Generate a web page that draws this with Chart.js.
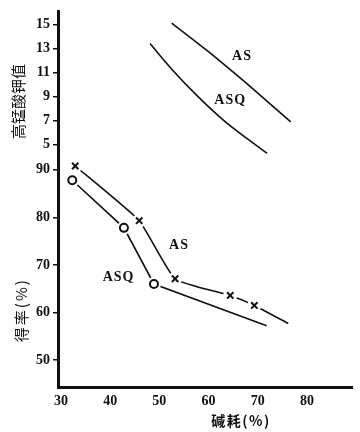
<!DOCTYPE html>
<html>
<head>
<meta charset="utf-8">
<script src="https://cdn.jsdelivr.net/npm/chart.js@4/dist/chart.umd.min.js"></script>
<style>
  html, body { margin: 0; padding: 0; background: #fff; }
  #wrap { width: 360px; height: 432px; }
</style>
</head>
<body>
<div id="wrap"><canvas id="myChart"></canvas></div>
<script>
// tick labels
var xTicks = [30, 40, 50, 60, 70, 80];
var yieldTicks = [50, 60, 70, 80, 90];
var kmnoTicks = [5, 7, 9, 11, 13, 15];

// permanganate number vs alkali consumption (top panel)
var kmnoAsX = [52.5, 59.6, 66.4, 71.8, 76.7];
var kmnoAsY = [15.1, 12.85, 10.55, 8.65, 6.9];
var kmnoAsqX = [48.1, 52.8, 57.6, 63.0, 67.7, 71.9];
var kmnoAsqY = [13.4, 11.15, 9.1, 7.05, 5.55, 4.3];

// yield vs alkali consumption (bottom panel)
var yieldAsX = [32.9, 45.9, 53.2, 64.4, 69.3, 76.2];
var yieldAsY = [90.8, 79.3, 67.1, 63.6, 61.5, 57.7];
var yieldAsqX = [32.3, 42.8, 48.9, 71.8];
var yieldAsqY = [87.8, 77.8, 66.0, 57.2];

// which yield points carry a marker (line ends have none)
var yieldAsMarked = [true, true, true, true, true, false];
var yieldAsqMarked = [true, true, true, false];

function pts(xs, ys) {
    return xs.map(function (v, i) { return { x: v, y: ys[i] }; });
}
function marked(xs, ys, flags) {
    return pts(xs, ys).filter(function (p, i) { return flags[i]; });
}

var ink = "#111";

var lineBase = {
    borderColor: ink,
    borderWidth: 1.6,
    pointRadius: 0,
    fill: false,
    clip: false,
    order: 3,
};

var datasets = [
    Object.assign({ label: "AS", data: pts(kmnoAsX, kmnoAsY), yAxisID: "y2", tension: 0.3 }, lineBase),
    Object.assign({ label: "ASQ", data: pts(kmnoAsqX, kmnoAsqY), yAxisID: "y2", tension: 0.3 }, lineBase),
    Object.assign({ label: "AS yield", data: pts(yieldAsX, yieldAsY), yAxisID: "y", tension: 0.15 }, lineBase),
    Object.assign({ label: "ASQ yield", data: pts(yieldAsqX, yieldAsqY), yAxisID: "y", tension: 0 }, lineBase),
    // white halo so the lines stop short of the markers, as in the print
    {
        label: "halo",
        data: marked(yieldAsX, yieldAsY, yieldAsMarked).concat(marked(yieldAsqX, yieldAsqY, yieldAsqMarked)),
        yAxisID: "y",
        showLine: false,
        clip: false,
        pointRadius: 7,
        pointBackgroundColor: "#fff",
        pointBorderWidth: 0,
        order: 2,
    },
    {
        label: "AS marks",
        data: marked(yieldAsX, yieldAsY, yieldAsMarked),
        yAxisID: "y",
        showLine: false,
        clip: false,
        pointStyle: "crossRot",
        pointRadius: 4.5,
        pointBorderColor: ink,
        pointBorderWidth: 2,
        order: 1,
    },
    {
        label: "ASQ marks",
        data: marked(yieldAsqX, yieldAsqY, yieldAsqMarked),
        yAxisID: "y",
        showLine: false,
        clip: false,
        pointStyle: "circle",
        pointRadius: 4,
        pointBackgroundColor: "#fff",
        pointBorderColor: ink,
        pointBorderWidth: 2,
        order: 1,
    },
];

// curve names and axis titles
var textPlugin = {
    id: "textPlugin",
    afterDatasetsDraw: function (chart) {
        var ctx = chart.ctx;
        var sx = chart.scales.x, sy = chart.scales.y, sy2 = chart.scales.y2;
        ctx.save();
        ctx.fillStyle = ink;
        ctx.textAlign = "center";
        ctx.textBaseline = "middle";

        ctx.font = "bold 14px 'Liberation Serif'";
        ctx.letterSpacing = "1px";
        [
            ["AS", 66.8, 12.3, sy2],
            ["ASQ", 64.4, 8.7, sy2],
            ["AS", 54.0, 74.1, sy],
            ["ASQ", 41.7, 67.4, sy],
        ].forEach(function (t) {
            ctx.fillText(t[0], sx.getPixelForValue(t[1]), t[3].getPixelForValue(t[2]));
        });

        ctx.font = "bold 14px 'Noto Sans CJK SC'";
        ctx.letterSpacing = "1.5px";
        ctx.fillText("碱耗(%)", sx.getPixelForValue(66.6), sx.bottom - 11);

        ctx.font = "15px 'Noto Sans CJK SC'";
        [["高锰酸钾值", sy2.getPixelForValue(8.6), 0, 18], ["得率(%)", sy.getPixelForValue(60.5), 2, 21]].forEach(function (t) {
            ctx.save();
            ctx.letterSpacing = t[2] + "px";
            ctx.translate(sy.left + t[3], t[1]);
            ctx.rotate(-Math.PI / 2);
            ctx.fillText(t[0], 0, 0);
            ctx.restore();
        });
        ctx.restore();
    },
};

var tickFont = { family: "'Liberation Serif'", size: 14, weight: "bold" };

var yAxisBase = {
    type: "linear",
    position: "left",
    stack: "v",
    grid: { drawOnChartArea: false, drawTicks: true, tickLength: 5, color: ink, lineWidth: 1.5 },
    border: { color: ink, width: 3 },
    ticks: { color: ink, font: tickFont, padding: 3, autoSkip: false },
    afterFit: function (s) { s.width = 58; },
};

var ctx1 = document.getElementById("myChart").getContext("2d");

var myChart = new Chart(ctx1, {
    type: "line",
    data: { datasets: datasets },
    options: {
        responsive: true,
        maintainAspectRatio: false,
        animation: false,
        layout: { padding: { top: 10, right: 8, left: 0, bottom: 0 } },
        plugins: { legend: { display: false }, tooltip: { enabled: false } },
        scales: {
            x: {
                type: "linear",
                min: 29.4,
                max: 89.15,
                grid: { display: true, drawOnChartArea: false, drawTicks: false, color: ink },
                border: { color: ink, width: 3 },
                ticks: { color: ink, font: tickFont, padding: 6, autoSkip: false, maxRotation: 0 },
                afterBuildTicks: function (s) { s.ticks = xTicks.map(function (v) { return { value: v }; }); },
                afterFit: function (s) { s.height = 45; },
            },
            y: Object.assign({}, yAxisBase, {
                stackWeight: 218,
                min: 44.35,
                max: 90,
                afterBuildTicks: function (s) { s.ticks = yieldTicks.map(function (v) { return { value: v }; }); },
            }),
            y2: Object.assign({}, yAxisBase, {
                stackWeight: 159,
                min: 2.93,
                max: 16.07,
                afterBuildTicks: function (s) { s.ticks = kmnoTicks.map(function (v) { return { value: v }; }); },
            }),
        },
    },
    plugins: [textPlugin],
});
</script>
</body>
</html>
